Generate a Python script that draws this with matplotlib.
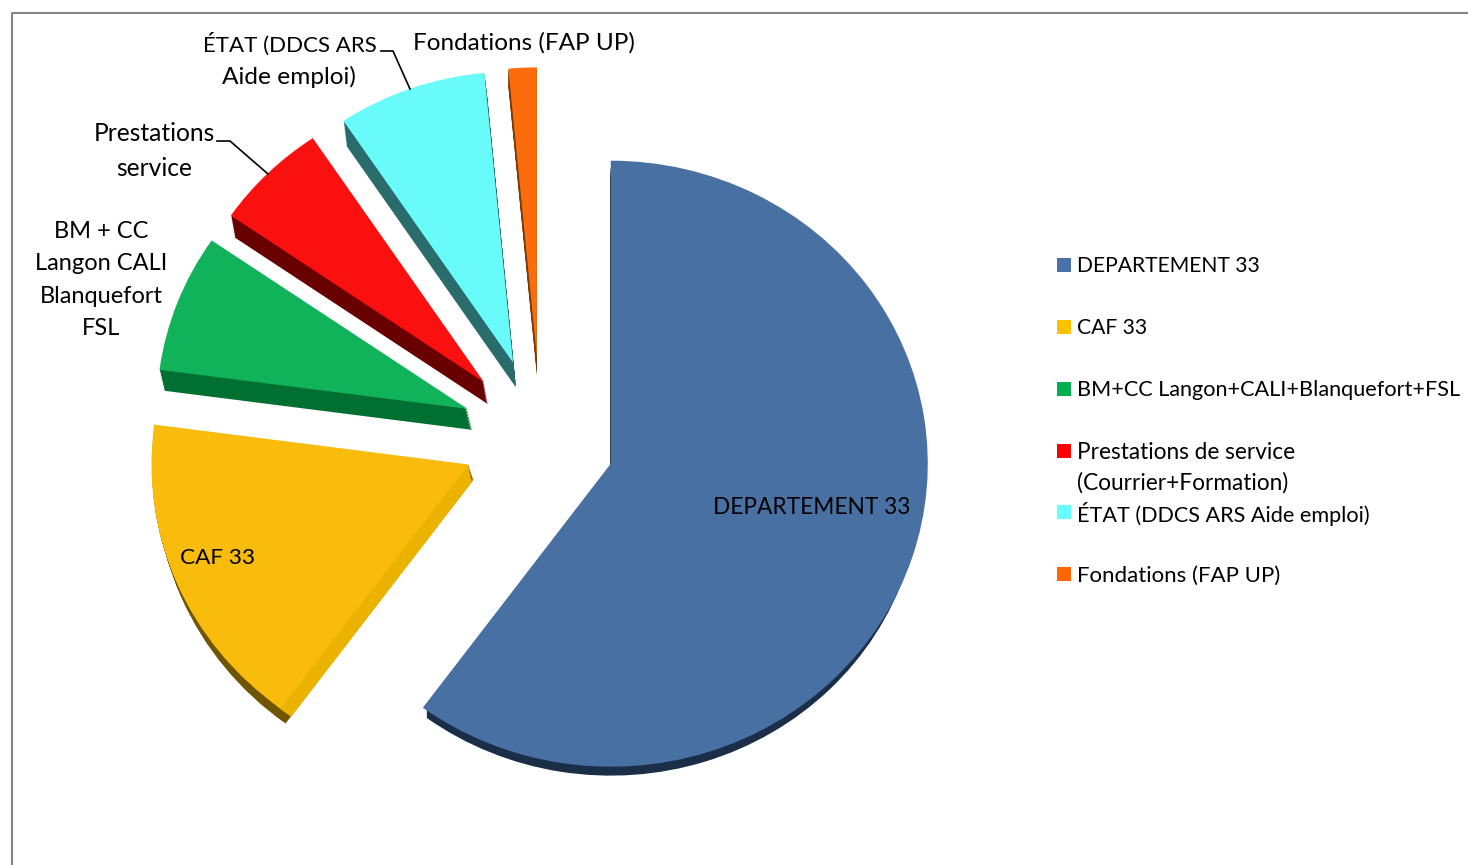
import matplotlib
matplotlib.use("Agg")
import matplotlib.pyplot as plt
from matplotlib.lines import Line2D
from matplotlib.patches import Rectangle

W = 1468
H = 865

categories = ["DEPARTEMENT 33", "CAF 33", "BM+CC Langon+CALI+Blanquefort+FSL",
              "Prestations de service\n(Courrier+Formation)",
              "ÉTAT (DDCS ARS Aide emploi)", "Fondations (FAP UP)"]
values = [60.1, 17.0, 7.5, 6.0, 7.9, 1.5]

top_colors = ["#4870A3", "#F9BC0C", "#10B25A", "#FB1010", "#68FBFA", "#FA6C0C"]
side_colors = ["#1B2E47", "#6F5500", "#006F32", "#680000", "#2A6B6B", "#7A3A05"]
legend_colors = ["#4A72A6", "#FFC000", "#00B050", "#FF0000", "#66FFFF", "#FF6600"]

# pixels per pie radius, and where the pie centre sits in the picture
RX = 317.0
RY = 303.0
CX = 539.5
CY = 438.0

# small fixes of each slice (perspective of the original), in pixels
nudge = [(-1, 3), (-1, -2), (-1, -3), (-2, -4), (-1, -7), (1, -8)]
radius = [1.0, 1.0, 0.98, 0.97, 0.96, 0.957]
# depth of each slice, in pixels
depth = [(0, 15), (5, 15), (5, 21), (4, 22), (3, 25), (0, 18)]

plt.rcParams['font.family'] = ['Lato', 'DejaVu Sans']
legend_sizes = [15.2, 15.2, 15.6, 16.3, 15.6, 16.0]


def fx(x):
    return x / W


def fy(y):
    return 1 - y / H


fig = plt.figure(figsize=(W / 100, H / 100), dpi=100, facecolor="white")
ax = fig.add_axes([0, 0, 1, 1])


def draw_pie(colors, shift=None, scale=1.0):
    wedges, _ = ax.pie(values, explode=[0.24] * len(values), startangle=90, counterclock=False,
                       colors=colors, wedgeprops={"linewidth": 0})
    for i, w in enumerate(wedges):
        dx, dy = nudge[i]
        if shift is not None:
            dx += shift[i][0] * scale
            dy += shift[i][1] * scale
        w.set_center((w.center[0] + dx / RX, w.center[1] - dy / RY))
        w.set_radius(radius[i])
    return wedges


# extrude the slices by stacking shifted copies
STEPS = 14
for s in range(STEPS, 0, -1):
    side = draw_pie(side_colors, depth, s / STEPS)
    # slightly smaller so the rim of the big slice only shows at the bottom
    side[0].set_radius(0.98)
# the flank of the CAF slice is lighter than its rim
for s in range(STEPS, 0, -1):
    caf_side = draw_pie(["none", "#ECB200", "none", "none", "none", "none"], [(4, 17)] * 6, s / STEPS)
    caf_side[1].set_radius(0.965)
draw_pie(top_colors)

ax.set_aspect("auto")
ax.set_xlim(-CX / RX, (W - CX) / RX)
ax.set_ylim((CY - H) / RY, CY / RY)
ax.axis("off")

# chart frame, only top and left are inside the picture
fig.add_artist(Line2D([fx(12), fx(12), fx(W)], [fy(H), fy(13), fy(13)], color="#868686", lw=1.5))

# slice labels
fig.text(fx(812), fy(508), "DEPARTEMENT 33", ha="center", va="center", fontsize=16.3, color="black")
fig.text(fx(218), fy(558), "CAF 33", ha="center", va="center", fontsize=16.2, color="black")
fig.text(fx(101), fy(280), "BM + CC\nLangon CALI\nBlanquefort\nFSL", ha="center", va="center",
         fontsize=17, color="black", linespacing=1.65)
fig.text(fx(154), fy(151), "Prestations\nservice", ha="center", va="center", fontsize=17.7,
         color="black", linespacing=1.65)
fig.text(fx(289.5), fy(44), "ÉTAT (DDCS ARS", ha="center", va="center", fontsize=16, color="black")
fig.text(fx(289), fy(77), "Aide emploi)", ha="center", va="center", fontsize=17.6, color="black")
fig.text(fx(524), fy(43), "Fondations (FAP UP)", ha="center", va="center", fontsize=17.5, color="black")

# leader lines
fig.add_artist(Line2D([fx(217), fx(230), fx(268)], [fy(141), fy(141), fy(174)], color="black", lw=1.2))
fig.add_artist(Line2D([fx(381), fx(393), fx(410)], [fy(51), fy(51), fy(89)], color="black", lw=1.2))

# legend, spaced by hand because the two line entry is squeezed in the original
legend_y = [265, 327, 389, 451, 512, 574]
for name, col, y, fs in zip(categories, legend_colors, legend_y, legend_sizes):
    fig.add_artist(Rectangle((fx(1057), fy(y + 7)), 14 / W, 14 / H, transform=fig.transFigure,
                             facecolor=col, edgecolor="none"))
    lines = name.split("\n")
    for k, line in enumerate(lines):
        fig.text(fx(1077), fy(y + 1.5 + k * 30), line, ha="left", va="center", fontsize=fs, color="black")

fig.savefig("out.png", dpi=100)
